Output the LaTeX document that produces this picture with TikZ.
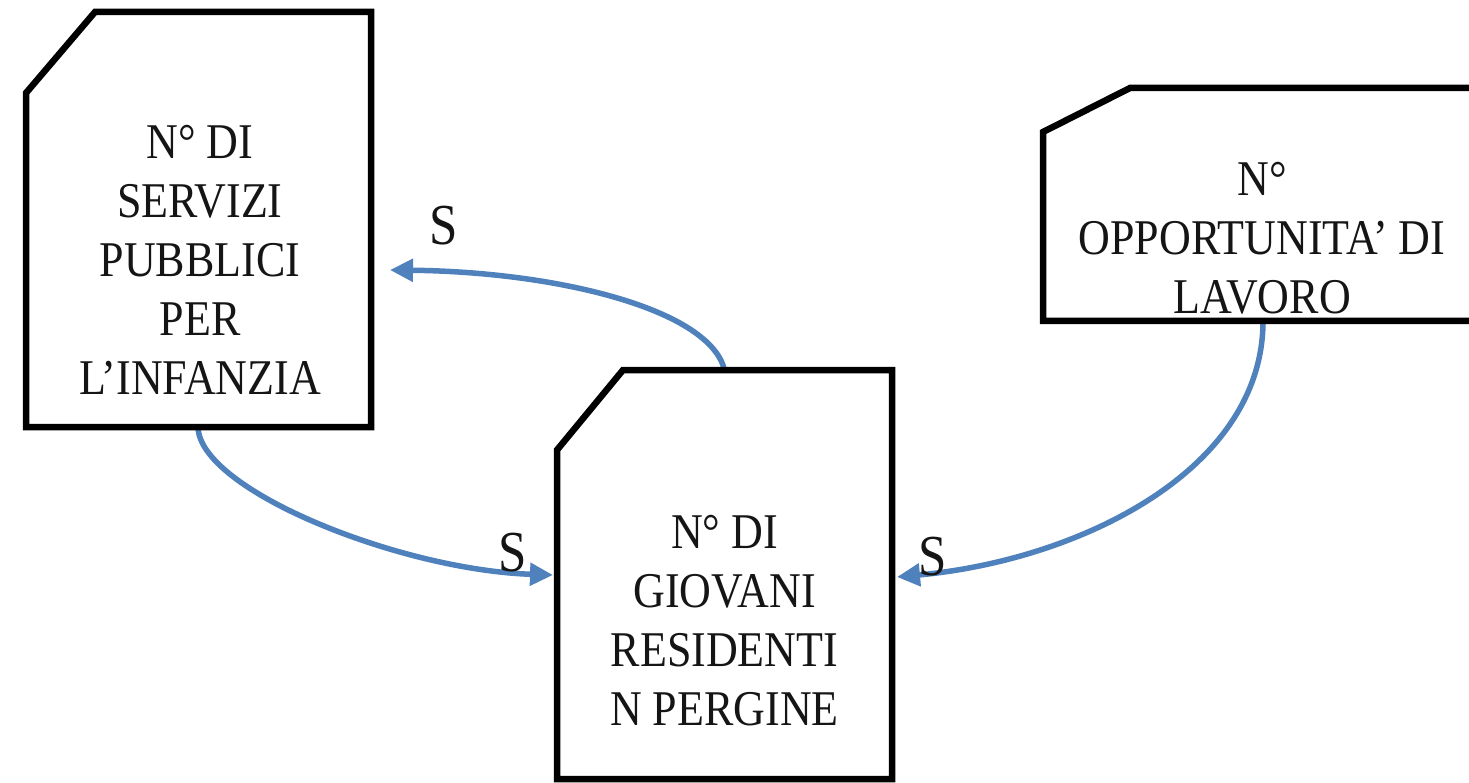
\documentclass[tikz,border=0pt]{standalone}
\usepackage{fontspec}
\setmainfont{Liberation Serif}[FakeStretch=0.88]
\usetikzlibrary{arrows.meta}
\definecolor{arrowblue}{HTML}{4F81BD}
\definecolor{inkgrey}{HTML}{151515}
\begin{document}
\begin{tikzpicture}[x=1pt,y=-1pt,
  boxarea/.style={inner sep=0pt, outer sep=0pt, draw=none},
  boxline/.style={draw=black, line width=6.5pt, line join=miter},
  boxtext/.style={font=\fontsize{50}{59}\selectfont, align=center, text=inkgrey, inner sep=0pt},
  slabel/.style={font=\fontsize{58}{60}\selectfont, text=inkgrey, inner sep=0pt},
  link/.style={draw=arrowblue, line width=5.5pt, -{Triangle[length=23pt,width=22pt]}}]
\useasboundingbox (0,0) rectangle (1469,783);
\fill[white] (0,0) rectangle (1469,783);

% box areas
\node[boxarea, minimum width=345pt, minimum height=415pt] (A) at (198.5,219.5) {};
\node[boxarea, minimum width=335pt, minimum height=409pt] (B) at (724.5,574.5) {};
\node[boxarea, minimum width=438pt, minimum height=233pt] (C) at (1262,204.5) {};

% connectors
\draw[link] (B.north) .. controls +(-14.5,-60) and +(170,2) .. ([xshift=19pt,yshift=-50.5pt]A.east);
\draw[link] ([xshift=-0.5pt]A.south) .. controls +(1.5,63) and +(-153,-5) .. ([xshift=-4pt,yshift=-0.5pt]B.west);
\draw[link] ([xshift=1pt]C.south) .. controls +(0,149) and +(183,-17) .. ([xshift=5pt,yshift=-2.5pt]B.east);

% outlines
\draw[boxline] ([yshift=-81pt]A.north west) -- ([xshift=69pt]A.north west) -- (A.north east) -- (A.south east) -- (A.south west) -- cycle;
\draw[boxline] ([yshift=-80pt]B.north west) -- ([xshift=66pt]B.north west) -- (B.north east) -- (B.south east) -- (B.south west) -- cycle;
\draw[boxline] ([yshift=-44pt]C.north west) -- ([xshift=87pt]C.north west) -- (C.north east) -- (C.south east) -- (C.south west) -- cycle;

% texts
\node[boxtext] (tA) at (200,259.5) {N° DI\\SERVIZI\\PUBBLICI\\PER\\L’INFANZIA};
\node[boxtext] (tB) at (724.5,621) {N° DI\\GIOVANI\\RESIDENTI\\N PERGINE};
\node[boxtext] (tC) at (1262,238) {N°\\OPPORTUNITA’ DI\\LAVORO};

% labels
\node[slabel] (s1) at (444,226) {S};
\node[slabel] (s2) at (513,553) {S};
\node[slabel] (s3) at (933,557) {S};
\end{tikzpicture}
\end{document}
